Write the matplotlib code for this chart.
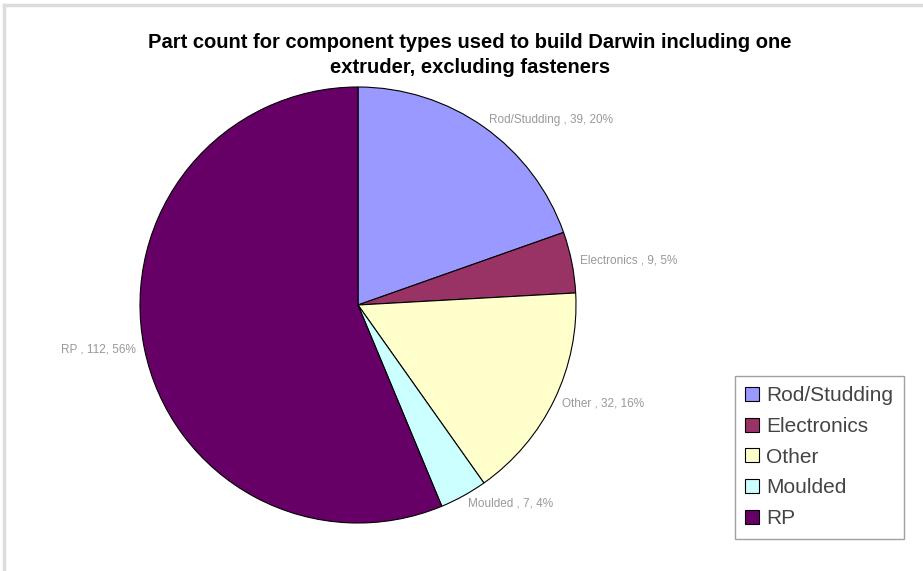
import matplotlib.pyplot as plt
from matplotlib.lines import Line2D

plt.rcParams["font.family"] = ["Liberation Sans", "DejaVu Sans"]

categories = ["Rod/Studding", "Electronics", "Other", "Moulded", "RP"]
counts = [39, 9, 32, 7, 112]
colors = ["#9999FF", "#993366", "#FFFFCC", "#CCFFFF", "#660066"]

total = sum(counts)
labels = [f"{c} , {n}, {round(100 * n / total)}%" for c, n in zip(categories, counts)]

fig = plt.figure(figsize=(9.23, 5.71), dpi=100)
W, H = 923, 571

# pie centre ~ (358, 305) px, radius ~218 px
ax = fig.add_axes([(358 - 218) / W, (H - 523) / H, 436 / W, 436 / H])
wedges, texts = ax.pie(
    counts,
    labels=labels,
    colors=colors,
    startangle=90,
    counterclock=False,
    labeldistance=1.04,
    wedgeprops=dict(edgecolor="black", linewidth=0.8),
    textprops=dict(fontsize=8.5, color="#999999"),
)
ax.set_xlim(-1, 1)
ax.set_ylim(-1, 1)
ax.set_aspect("equal")
for t in texts:
    t.set_clip_on(False)

fig.text(0.509, 1 - 55 / H, "Part count for component types used to build Darwin including one\n"
         "extruder, excluding fasteners", ha="center", va="center",
         fontsize=14.5, fontweight="bold", linespacing=1.35)

leg = fig.legend(wedges, categories, loc="upper left",
                 bbox_to_anchor=(735 / W, 1 - 376 / H),
                 fontsize=15, frameon=True, fancybox=False,
                 edgecolor="#888888", handlelength=0.65, handleheight=0.65,
                 handletextpad=0.35, labelspacing=0.56, borderpad=0.5,
                 borderaxespad=0)
leg.get_frame().set_linewidth(1.0)
for t in leg.get_texts():
    t.set_color("#444444")

# outer chart border (top and left visible)
fig.add_artist(Line2D([4 / W, 1], [1 - 5 / H, 1 - 5 / H], color="#dcdcdc", lw=2.5))
fig.add_artist(Line2D([4 / W, 4 / W], [1 - 5 / H, 2 / H], color="#dcdcdc", lw=2.5))

plt.savefig("out.png", dpi=100)
